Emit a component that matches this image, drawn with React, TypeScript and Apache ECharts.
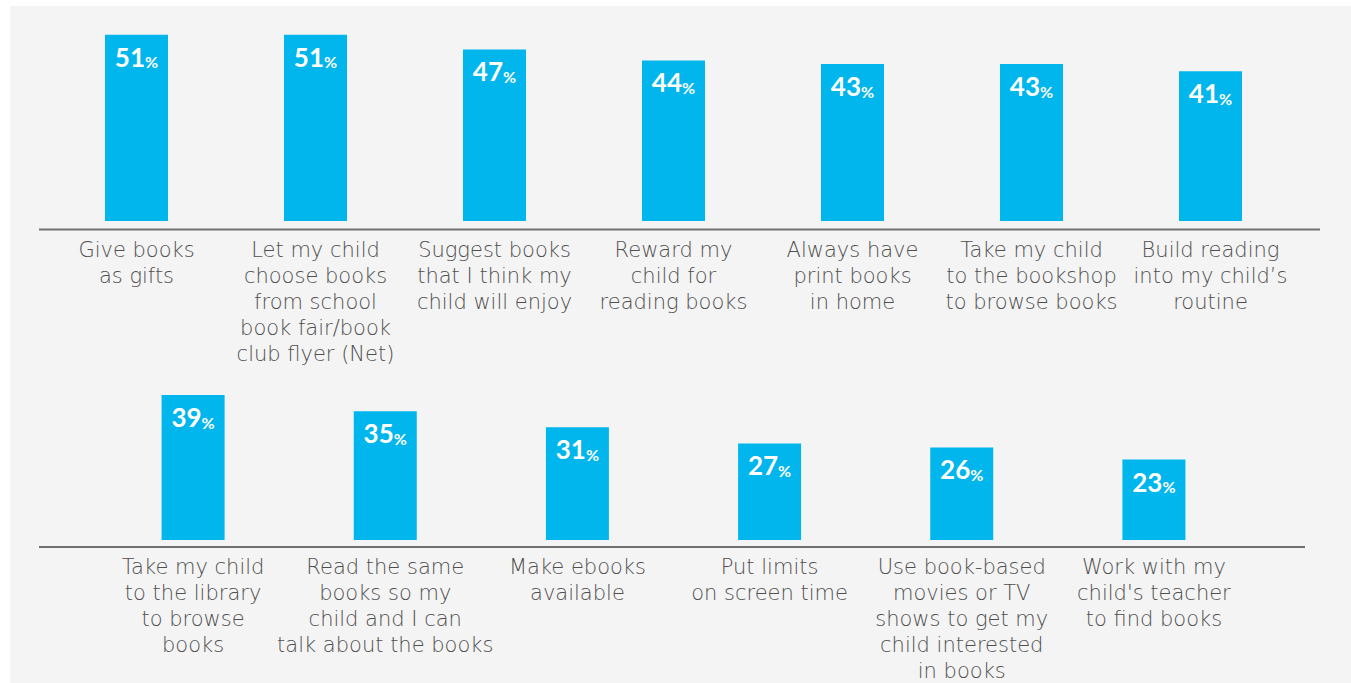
import React, { useEffect, useRef } from "react";
import * as echarts from "echarts";

const topCategories = [
  "Give books\nas gifts",
  "Let my child\nchoose books\nfrom school\nbook fair/book\nclub flyer (Net)",
  "Suggest books\nthat I think my\nchild will enjoy",
  "Reward my\nchild for\nreading books",
  "Always have\nprint books\nin home",
  "Take my child\nto the bookshop\nto browse books",
  "Build reading\ninto my child\u2019s\nroutine",
];
const topValues = [51, 51, 47, 44, 43, 43, 41];

const bottomCategories = [
  "Take my child\nto the library\nto browse\nbooks",
  "Read the same\nbooks so my\nchild and I can\ntalk about the books",
  "Make ebooks\navailable",
  "Put limits\non screen time",
  "Use book-based\nmovies or TV\nshows to get my\nchild interested\nin books",
  "Work with my\nchild's teacher\nto find books",
];
const bottomValues = [39, 35, 31, 27, 26, 23];

const BAR = "#00b6ec";
const TEXT = "#4f4f4f";
const LINE = "#707070";

export default function App() {
  const ref = useRef<HTMLDivElement>(null);
  useEffect(() => {
    if (!ref.current) return;
    const chart = echarts.init(ref.current, null, { renderer: "svg" });
    const catLabel = (margin: number) => ({
      interval: 0,
      color: TEXT,
      fontSize: 21,
      fontWeight: 300,
      lineHeight: 26,
      fontFamily: "DejaVu Sans",
      margin,
    });
    const valueLabel = {
      show: true,
      position: "insideTop" as const,
      distance: 9,
      formatter: (p: any) => `{n|${p.value}}{p|%}`,
      rich: {
        n: {
          color: "#ffffff",
          fontSize: 26,
          fontWeight: "bold",
          fontFamily: "Lato",
          lineHeight: 26,
          verticalAlign: "bottom",
        },
        p: {
          color: "#ffffff",
          fontSize: 16,
          fontWeight: "bold",
          fontFamily: "Lato",
          lineHeight: 18,
          verticalAlign: "bottom",
        },
      },
    };
    chart.setOption({
      animation: false,
      backgroundColor: "#ffffff",
      graphic: [
        {
          type: "rect",
          z: -10,
          silent: true,
          shape: { x: 10, y: 6, width: 1341, height: 677 },
          style: { fill: "#f4f4f4" },
        },
        {
          type: "line",
          z: 1,
          silent: true,
          shape: { x1: 39, y1: 229.5, x2: 1320, y2: 229.5 },
          style: { stroke: LINE, lineWidth: 2 },
        },
        {
          type: "line",
          z: 1,
          silent: true,
          shape: { x1: 39, y1: 547, x2: 1305, y2: 547 },
          style: { stroke: LINE, lineWidth: 2 },
        },
      ],
      grid: [
        { left: 47, width: 1253, top: 2, height: 219, outerBoundsMode: "none", containLabel: false },
        { left: 97, width: 1153, top: 379, height: 161, outerBoundsMode: "none", containLabel: false },
      ],
      xAxis: [
        {
          type: "category",
          gridIndex: 0,
          data: topCategories,
          axisLine: { show: false },
          axisTick: { show: false },
          axisLabel: catLabel(16),
        },
        {
          type: "category",
          gridIndex: 1,
          data: bottomCategories,
          axisLine: { show: false },
          axisTick: { show: false },
          axisLabel: catLabel(14),
        },
      ],
      yAxis: [
        { type: "value", gridIndex: 0, min: 0, max: 60, show: false },
        { type: "value", gridIndex: 1, min: 3, max: 43, show: false },
      ],
      series: [
        {
          type: "bar",
          xAxisIndex: 0,
          yAxisIndex: 0,
          data: topValues,
          barWidth: 63,
          itemStyle: { color: BAR },
          label: valueLabel,
        },
        {
          type: "bar",
          xAxisIndex: 1,
          yAxisIndex: 1,
          data: bottomValues,
          barWidth: 63,
          itemStyle: { color: BAR },
          label: valueLabel,
        },
      ],
    });
    return () => chart.dispose();
  }, []);
  return (
    <div
      ref={ref}
      style={{ position: "absolute", left: 0, top: 0, width: 1351, height: 683 }}
    />
  );
}
